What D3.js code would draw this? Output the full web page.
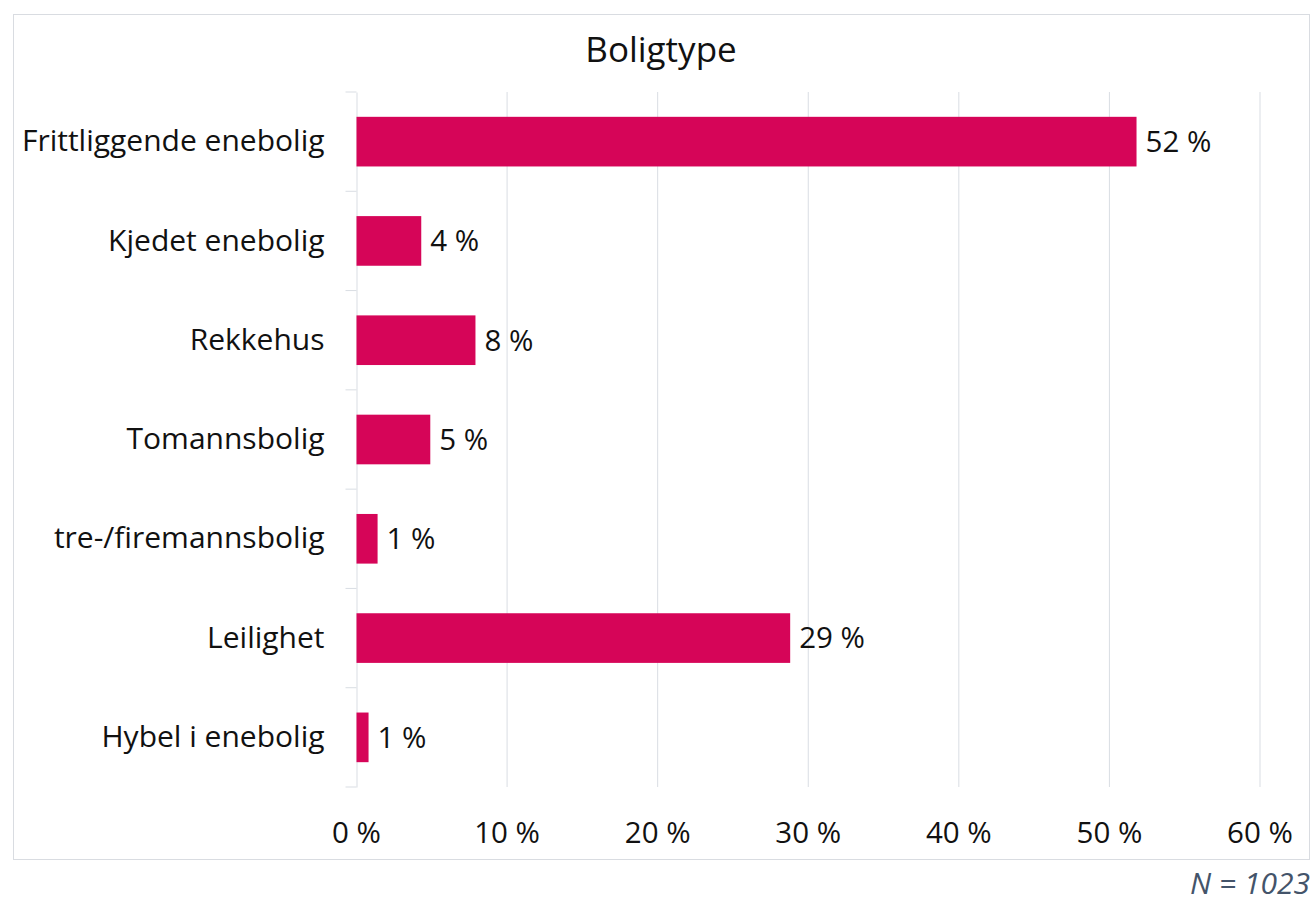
<!DOCTYPE html>
<html>
<head>
<meta charset="utf-8">
<script src="https://cdn.jsdelivr.net/npm/d3@7"></script>
<style>
  body { margin: 0; background: #fff; }
  text { font-family: "Open Sans", sans-serif; fill: #111; }
</style>
</head>
<body>
<div id="draw"></div>
<script>
var categories = ['Frittliggende enebolig', 'Kjedet enebolig', 'Rekkehus', 'Tomannsbolig',
    'tre-/firemannsbolig', 'Leilighet', 'Hybel i enebolig'];
var values = [51.8, 4.3, 7.9, 4.9, 1.4, 28.8, 0.8];
var labels = ['52 %', '4 %', '8 %', '5 %', '1 %', '29 %', '1 %'];
var xTicks = [0, 10, 20, 30, 40, 50, 60];

var W = 1315, H = 901;
var plotL = 356.5, plotR = 1260, plotT = 92, plotB = 787;

var svg = d3.select('#draw').append('svg')
    .attr('width', W).attr('height', H);

// chart frame
svg.append('rect')
    .attr('x', 13.5).attr('y', 14.5)
    .attr('width', 1296).attr('height', 845)
    .attr('fill', 'none').attr('stroke', '#d9dce1').attr('stroke-width', 1);

var x = d3.scaleLinear().domain([0, 60]).range([plotL, plotR]);
var y = d3.scaleBand().domain(categories).range([plotT, plotB]).paddingInner(0.5).paddingOuter(0.25);

// gridlines
svg.append('g').selectAll('line')
    .data(xTicks.slice(1))
    .enter().append('line')
    .attr('x1', function(d){ return x(d); }).attr('x2', function(d){ return x(d); })
    .attr('y1', plotT).attr('y2', plotB)
    .attr('stroke', '#d9dde3').attr('stroke-width', 1);

// x tick labels
svg.append('g').selectAll('text')
    .data(xTicks)
    .enter().append('text')
    .attr('x', function(d){ return x(d); })
    .attr('y', 843)
    .attr('text-anchor', 'middle')
    .style('font-size', '29.5px')
    .text(function(d){ return d + ' %'; });

// category axis
var yAxis = d3.axisLeft(y).tickSize(0).tickPadding(32);
var gy = svg.append('g').attr('transform', 'translate(' + plotL + ',0)').call(yAxis);
gy.select('.domain').attr('stroke', '#d9dde3');
gy.selectAll('text').style('font-size', '30px').attr('fill', '#111');

// band boundary ticks
var bounds = categories.map(function(c){ return y(c) - y.step() * y.paddingInner() / 2; });
bounds.push(plotB);
svg.append('g').selectAll('line')
    .data(bounds)
    .enter().append('line')
    .attr('x1', plotL - 11).attr('x2', plotL)
    .attr('y1', function(d){ return d; }).attr('y2', function(d){ return d; })
    .attr('stroke', '#d9dde3');

// bars
svg.append('g').selectAll('rect')
    .data(values)
    .enter().append('rect')
    .attr('x', x(0))
    .attr('y', function(d, i){ return y(categories[i]); })
    .attr('width', function(d){ return x(d) - x(0); })
    .attr('height', y.bandwidth())
    .attr('fill', '#d60558');

// value labels
svg.append('g').selectAll('text')
    .data(values)
    .enter().append('text')
    .attr('x', function(d){ return x(d) + 9; })
    .attr('y', function(d, i){ return y(categories[i]) + y.bandwidth() / 2; })
    .attr('dy', '0.35em')
    .style('font-size', '29.5px')
    .text(function(d, i){ return labels[i]; });

// title
svg.append('text')
    .attr('x', 661).attr('y', 62)
    .attr('text-anchor', 'middle')
    .style('font-size', '35px')
    .text('Boligtype');

// footnote
svg.append('text')
    .attr('x', 1310).attr('y', 894)
    .attr('text-anchor', 'end')
    .style('font-size', '30px').style('font-style', 'italic')
    .style('fill', '#44546a')
    .text('N = 1023');
</script>
</body>
</html>
